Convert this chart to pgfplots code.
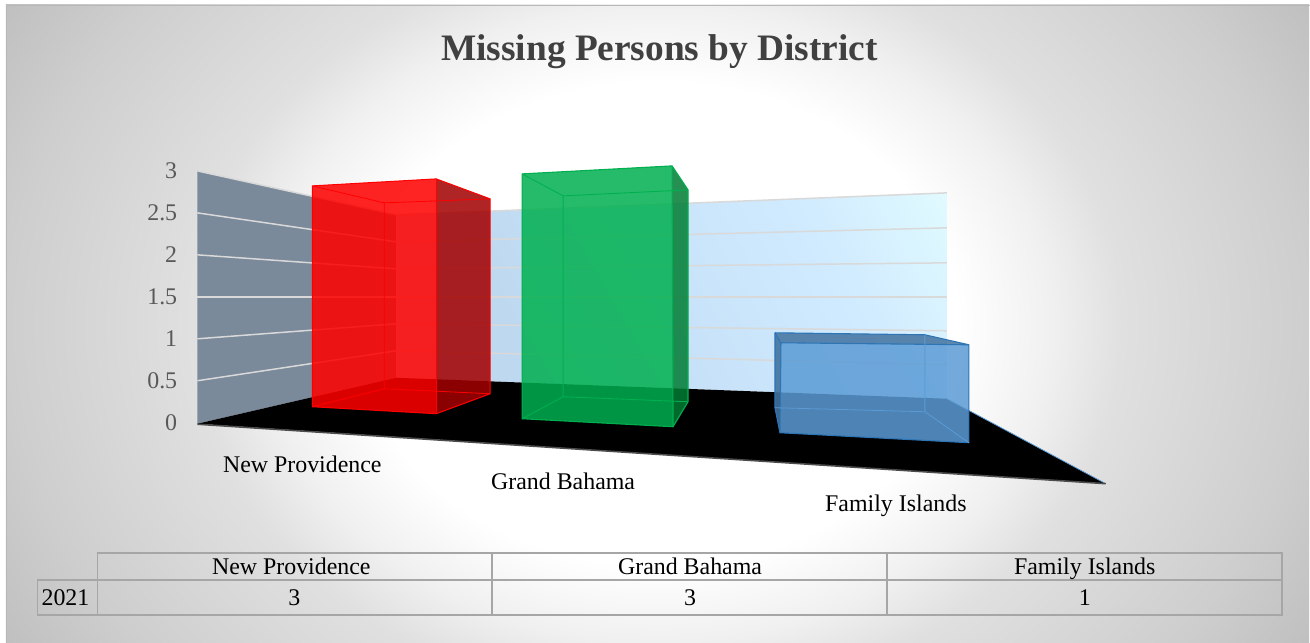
\documentclass[border=0pt]{standalone}
\usepackage{pgfplots}
\pgfplotsset{compat=1.18}
\usepackage{fontspec}
\setmainfont{Liberation Serif}
\definecolor{c0}{HTML}{F0F0F0}
\definecolor{c1}{HTML}{E0E0E0}
\definecolor{c2}{HTML}{CECECE}
\definecolor{c3}{HTML}{C0C0C0}
\definecolor{wallL}{HTML}{7A8A9A}
\definecolor{gridc}{HTML}{D9D9D9}
\definecolor{tabline}{HTML}{A6A6A6}
\definecolor{tickc}{HTML}{595959}
\definecolor{titlec}{HTML}{404040}
\definecolor{wA}{HTML}{BED8EF}
\definecolor{wB}{HTML}{C8E2F9}
\definecolor{wD}{HTML}{D0EAFF}
\definecolor{wC}{HTML}{E2FCFF}
\definecolor{grn}{HTML}{00B050}
\definecolor{grnD}{HTML}{007D34}
\definecolor{redD}{HTML}{A30000}
\definecolor{blu}{HTML}{5B9BD5}
\definecolor{bluD}{HTML}{41729F}
\definecolor{bluE}{HTML}{2E75B6}
\pgfdeclareradialshading{bgs}{\pgfpoint{0bp}{0bp}}{color(0bp)=(white);color(7.5bp)=(white);color(9.875bp)=(c0);color(11.625bp)=(c1);color(16.25bp)=(c2);color(19bp)=(c3);color(100bp)=(c3)}
\pgfdeclareverticalshading{wallg}{100bp}{color(0bp)=(wC);color(14bp)=(wC);color(32bp)=(wD);color(50bp)=(wB);color(68bp)=(wA);color(100bp)=(wA)}
\begin{document}
\begin{tikzpicture}
\fill[white] (0,0) rectangle (1310bp,-643bp);
\begin{scope}
\clip (6bp,-5bp) rectangle (1310bp,-643bp);
\path[shading=bgs] (658bp,-324bp) ellipse [x radius=1000bp, y radius=806bp];
\end{scope}
\begin{axis}[
  anchor=north west, at={(0,0)},
  width=1310bp, height=643bp, scale only axis,
  xmin=-0.5, xmax=1309.5, ymin=0, ymax=643, y dir=reverse,
  hide axis, clip=false]
\addplot[draw=black!28, line width=0.8pt, forget plot] coordinates {(6,643) (6,5.5) (1310,5.5)};
% left wall
\addplot[draw=none, fill=wallL, forget plot] coordinates {(197,171) (396,215) (396,378) (197,424)} -- cycle;
% back wall
\addplot[draw=none, shading=wallg, shading angle=120, forget plot] coordinates {(396,215) (947,193) (947,399) (396,378)} -- cycle;
% floor
\addplot[draw=none, fill=black, forget plot] coordinates {(197,424) (396,378) (947,399) (1106,484)} -- cycle;
\addplot[draw=blu, line width=0.8pt, forget plot] coordinates {(947,399) (1106,484)};
\addplot[draw=black!70, line width=1.6pt, forget plot] coordinates {(197,424.5) (1106,484)};
% gridlines, values 0.5 up to 3: left wall corner, back corner, right end
\addplot[draw=gridc, line width=1.5pt, forget plot] coordinates {(197,381) (396,351) (947,365)};
\addplot[draw=gridc, line width=1.5pt, forget plot] coordinates {(197,339) (396,324) (947,331)};
\addplot[draw=gridc, line width=1.5pt, forget plot] coordinates {(197,297) (396,297) (947,297)};
\addplot[draw=gridc, line width=1.5pt, forget plot] coordinates {(197,255) (396,269) (947,263)};
\addplot[draw=gridc, line width=1.5pt, forget plot] coordinates {(197,213) (396,242) (947,228)};
\addplot[draw=gridc, line width=1.5pt, forget plot] coordinates {(197,171) (396,215) (947,193)};
% RED bar (value 3)
\addplot[draw=none, fill=red, fill opacity=0.86, forget plot] coordinates {(312,186) (436,179) (436,414) (312,407)} -- cycle;
\addplot[draw=none, fill=redD, fill opacity=0.86, forget plot] coordinates {(436,179) (490,199) (490,394) (436,414)} -- cycle;
\addplot[draw=red, line width=1pt, forget plot] coordinates {(312,186) (436,179) (490,199) (490,394) (436,414) (312,407) (312,186)};
\addplot[draw=red, line width=1pt, forget plot] coordinates {(436,179) (436,414)};
\addplot[draw=red, line width=0.8pt, forget plot] coordinates {(312,186) (384,203) (490,199)};
\addplot[draw=red, line width=0.8pt, forget plot] coordinates {(384,203) (384,389) (490,394)};
\addplot[draw=red, line width=0.8pt, forget plot] coordinates {(312,407) (384,389)};
% GREEN bar (value 3)
\addplot[draw=none, fill=grn, fill opacity=0.85, forget plot] coordinates {(522,174) (672,166) (673,427) (522,419)} -- cycle;
\addplot[draw=none, fill=grnD, fill opacity=0.85, forget plot] coordinates {(672,166) (688,190) (688,402) (673,427)} -- cycle;
\addplot[draw=grn, line width=1.1pt, forget plot] coordinates {(522,174) (672,166) (688,190) (688,402) (673,427) (522,419) (522,174)};
\addplot[draw=grn, line width=1.1pt, forget plot] coordinates {(672,166) (673,427)};
\addplot[draw=grn, line width=0.9pt, forget plot] coordinates {(522,174) (563,196) (688,190)};
\addplot[draw=grn, line width=0.9pt, forget plot] coordinates {(563,196) (563,397) (688,402)};
\addplot[draw=grn, line width=0.9pt, forget plot] coordinates {(522,419) (563,397)};
% BLUE bar (value 1)
\addplot[draw=none, fill=blu, fill opacity=0.85, forget plot] coordinates {(781,343) (969,345) (969,443) (780,433)} -- cycle;
\addplot[draw=none, fill=bluD, fill opacity=0.85, forget plot] coordinates {(775,333) (925,335) (969,345) (781,343)} -- cycle;
\addplot[draw=none, fill=bluD, fill opacity=0.9, forget plot] coordinates {(775,333) (781,343) (780,433) (775,408)} -- cycle;
\addplot[draw=bluE, line width=1.1pt, forget plot] coordinates {(775,333) (925,335) (969,345) (969,443) (780,433) (775,408) (775,333)};
\addplot[draw=bluE, line width=1.1pt, forget plot] coordinates {(775,333) (781,343) (969,345)};
\addplot[draw=bluE, line width=1.1pt, forget plot] coordinates {(781,343) (780,433)};
\addplot[draw=blu, line width=0.8pt, forget plot] coordinates {(925,335) (925,412) (775,408)};
\addplot[draw=blu, line width=0.8pt, forget plot] coordinates {(925,412) (969,443)};
% title
\node[font=\fontsize{37.5}{40}\selectfont\bfseries, text=titlec, anchor=base] at (axis cs:659.5,60.7) {Missing Persons by District};
% tick labels
\node[font=\fontsize{24}{26}\selectfont, text=tickc, anchor=base east, inner sep=0pt] at (axis cs:177,431) {0};
\node[font=\fontsize{24}{26}\selectfont, text=tickc, anchor=base east, inner sep=0pt] at (axis cs:177,389) {0.5};
\node[font=\fontsize{24}{26}\selectfont, text=tickc, anchor=base east, inner sep=0pt] at (axis cs:177,347) {1};
\node[font=\fontsize{24}{26}\selectfont, text=tickc, anchor=base east, inner sep=0pt] at (axis cs:177,305) {1.5};
\node[font=\fontsize{24}{26}\selectfont, text=tickc, anchor=base east, inner sep=0pt] at (axis cs:177,263) {2};
\node[font=\fontsize{24}{26}\selectfont, text=tickc, anchor=base east, inner sep=0pt] at (axis cs:177,221) {2.5};
\node[font=\fontsize{24}{26}\selectfont, text=tickc, anchor=base east, inner sep=0pt] at (axis cs:177,179) {3};
% category labels
\node[font=\fontsize{24}{26}\selectfont, anchor=base] at (axis cs:302,472.7) {New Providence};
\node[font=\fontsize{24}{26}\selectfont, anchor=base] at (axis cs:563,489.7) {Grand Bahama};
\node[font=\fontsize{24}{26}\selectfont, anchor=base] at (axis cs:896,511.7) {Family Islands};
% data table
\addplot[draw=tabline, line width=1.8pt, forget plot] coordinates {(97,580) (97,553.5) (1282,553.5) (1282,615) (37,615) (37,580) (1282,580)};
\addplot[draw=tabline, line width=1.8pt, forget plot] coordinates {(97,580) (97,615)};
\addplot[draw=tabline, line width=1.8pt, forget plot] coordinates {(492,553.5) (492,615)};
\addplot[draw=tabline, line width=1.8pt, forget plot] coordinates {(887,553.5) (887,615)};
\node[font=\fontsize{24}{26}\selectfont, anchor=base] at (axis cs:291,574.5) {New Providence};
\node[font=\fontsize{24}{26}\selectfont, anchor=base] at (axis cs:690,574.5) {Grand Bahama};
\node[font=\fontsize{24}{26}\selectfont, anchor=base] at (axis cs:1085,574.5) {Family Islands};
\node[font=\fontsize{24}{26}\selectfont, anchor=base] at (axis cs:65,606) {2021};
\node[font=\fontsize{24}{26}\selectfont, anchor=base] at (axis cs:294,606) {3};
\node[font=\fontsize{24}{26}\selectfont, anchor=base] at (axis cs:690,606) {3};
\node[font=\fontsize{24}{26}\selectfont, anchor=base] at (axis cs:1085,606) {1};
\end{axis}
\end{tikzpicture}
\end{document}
